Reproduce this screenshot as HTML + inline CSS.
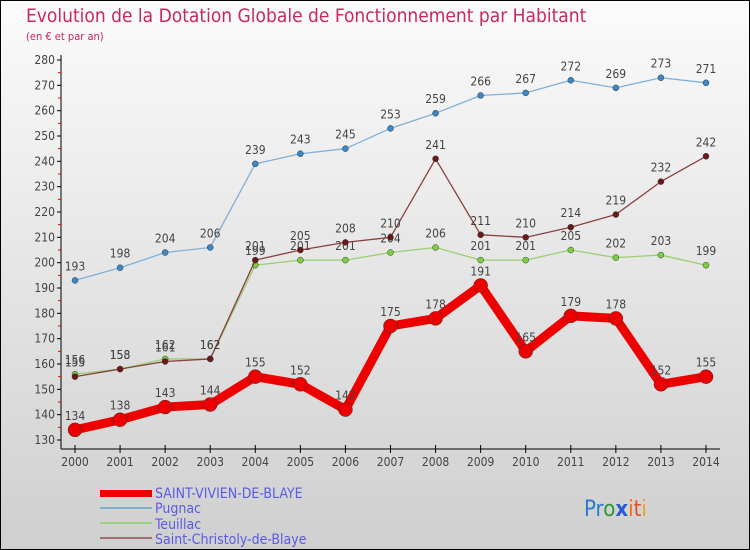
<!DOCTYPE html>
<html><head><meta charset="utf-8"><style>
body{margin:0;width:750px;height:550px;overflow:hidden}
svg{display:block;font-family:"DejaVu Sans Condensed","Liberation Sans",sans-serif}
</style></head><body>
<svg id="c" width="750" height="550">
<defs><linearGradient id="bg" x1="0" y1="0" x2="0" y2="1"><stop offset="0" stop-color="#fbfbfb"/><stop offset="1" stop-color="#cfcfcf"/></linearGradient></defs>
<rect x="0" y="0" width="750" height="550" fill="url(#bg)" stroke="#000" stroke-width="2"/>
<text x="26" y="22" font-size="19" fill="#c8285a">Evolution de la Dotation Globale de Fonctionnement par Habitant</text>
<text x="26" y="40" font-size="11" fill="#c8285a">(en € et par an)</text>
<g id="axes"></g><g id="series"></g>
<g>
<rect x="100" y="490" width="52" height="7" fill="#e00"/>
<text x="155" y="498" font-size="14" fill="#5a5ae6">SAINT-VIVIEN-DE-BLAYE</text>
<rect x="100" y="507" width="52" height="2" fill="#80b0d0"/>
<text x="155" y="513" font-size="14" fill="#5a5ae6">Pugnac</text>
<rect x="100" y="522" width="52" height="2" fill="#9ad080"/>
<text x="155" y="529" font-size="14" fill="#5a5ae6">Teuillac</text>
<rect x="100" y="537" width="52" height="2" fill="#a07070"/>
<text x="155" y="544" font-size="14" fill="#5a5ae6">Saint-Christoly-de-Blaye</text>
</g>
<text x="584" y="516" font-size="22"><tspan fill="#2a7ad0">Pr</tspan><tspan fill="#2a9a3a">o</tspan><tspan fill="#2a5ad0" font-weight="bold">x</tspan><tspan fill="#f07010">i</tspan><tspan fill="#e05020">t</tspan><tspan fill="#f0a020">i</tspan></text>
</svg>
<script>
const years=[2000,2001,2002,2003,2004,2005,2006,2007,2008,2009,2010,2011,2012,2013,2014];
const vivien=[134,138,143,144,155,152,142,175,178,191,165,179,178,152,155];
const pugnac=[193,198,204,206,239,243,245,253,259,266,267,272,269,273,271];
const teuillac=[156,158,162,162,199,201,201,204,206,201,201,205,202,203,199];
const christoly=[155,158,161,162,201,205,208,210,241,211,210,214,219,232,242];
const yTicks=[130,140,150,160,170,180,190,200,210,220,230,240,250,260,270,280];
const NS="http://www.w3.org/2000/svg";
const X=i=>75+i*(706-75)/(years.length-1);
const Y=v=>440-(v-130)*(440-60)/150;
function mk(t,a,p){const e=document.createElementNS(NS,t);for(const k in a)e.setAttribute(k,a[k]);p.appendChild(e);return e;}
const ax=document.getElementById('axes'),sg=document.getElementById('series');
let yl=mk('line',{x1:61,y1:55,x2:61,y2:449,stroke:'#000'},ax);


let xl=mk('line',{x1:61,y1:449,x2:720,y2:449,stroke:'#000'},ax);


yTicks.forEach((v,k)=>{
 mk('line',{x1:57,y1:Y(v),x2:61,y2:Y(v),stroke:'#000'},ax);
 if(k<yTicks.length-1) mk('line',{x1:58,y1:Y(v+5),x2:61,y2:Y(v+5),stroke:'#e00'},ax);
 const t=mk('text',{x:55,y:Y(v)+4,'font-size':12,'text-anchor':'end',fill:'#444'},ax);t.textContent=v;
 
 
});
years.forEach((y,i)=>{
 mk('line',{x1:X(i),y1:445,x2:X(i),y2:453,stroke:'#000'},ax);
 const t=mk('text',{x:X(i),y:466,'font-size':12,'text-anchor':'middle',fill:'#444'},ax);t.textContent=y;
 
 
});
function series(data,color,dot,w,r,name){
 const g=mk('g',{},sg);
 
 
 mk('polyline',{points:data.map((v,i)=>X(i)+','+Y(v)).join(' '),fill:'none',stroke:color,'stroke-width':w,'stroke-linejoin':'round'},g);
 data.forEach((v,i)=>{
  const c=mk('circle',{cx:X(i),cy:Y(v),r:r,fill:dot,stroke:'#333','stroke-width':0.5},g);
  
  
  const t=mk('text',{x:X(i),y:Y(v)-10,'font-size':12,'text-anchor':'middle',fill:'#444'},g);t.textContent=v;
 });
}
series(pugnac,'#80b0d8','#3a88c8',1.3,3,'pugnac');
series(teuillac,'#9ad070','#7ad040',1.3,3,'teuillac');
series(christoly,'#8a4040','#6a1818',1.3,3,'christoly');
series(vivien,'#ee0000','#ee0000',9,7,'vivien');
</script>
</body></html>
